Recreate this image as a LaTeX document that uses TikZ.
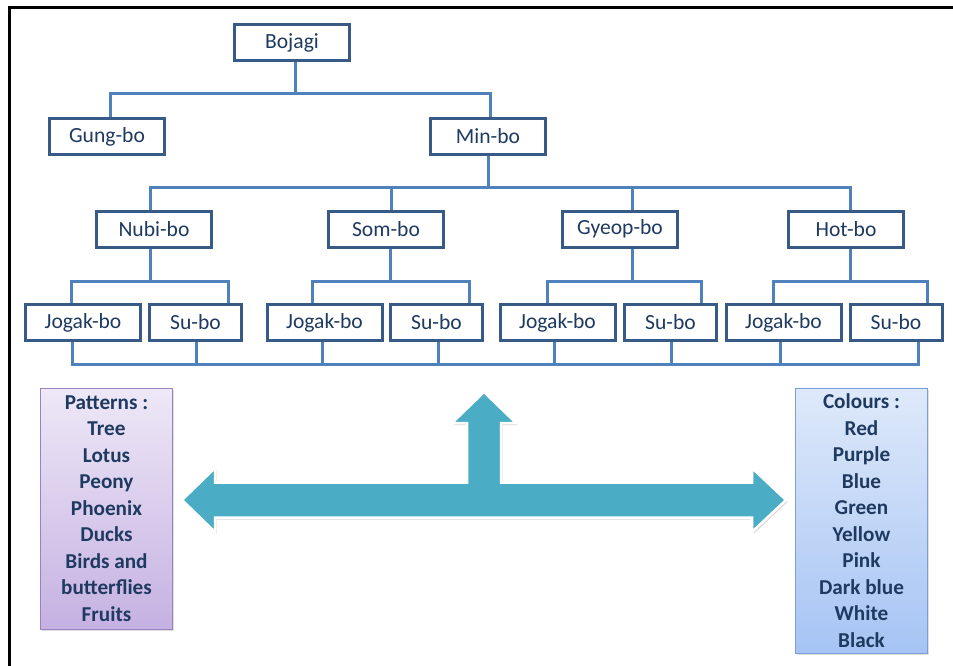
\documentclass[tikz,border=0pt]{standalone}
\usepackage{fontspec}
\setmainfont{Carlito}
\usetikzlibrary{shadows}
\definecolor{boxline}{HTML}{385A87}
\definecolor{connline}{HTML}{4F81BD}
\definecolor{txt}{HTML}{1F3A60}
\definecolor{arrowc}{HTML}{4BACC6}
\definecolor{purtop}{HTML}{EEE8F7}
\definecolor{purbot}{HTML}{C5B1E2}
\definecolor{purline}{HTML}{9A82C0}
\definecolor{blutop}{HTML}{DEE9FA}
\definecolor{blubot}{HTML}{A6C4F4}
\definecolor{bluline}{HTML}{7B9FD4}
\tikzset{
  treebox/.style={draw=boxline, line width=3pt, fill=white, inner sep=0pt,
    minimum height=36pt, text=txt, font=\fontsize{21.6}{26}\selectfont},
  wide/.style={treebox, minimum width=115pt},
  narrow/.style={treebox, minimum width=92pt},
  conn/.style={draw=connline, line width=3pt},
  listbox/.style={draw, line width=1pt, inner sep=0pt, align=center, text=txt,
    font=\bfseries\fontsize{21.2}{26.5}\selectfont, minimum width=132pt,
    drop shadow={opacity=0.25, shadow xshift=1.5pt, shadow yshift=-2pt}},
}
\begin{document}
\begin{tikzpicture}[x=1pt, y=-1pt]
\clip (0,0) rectangle (953,666);
\fill[white] (0,0) rectangle (953,666);
% outer frame
\draw[line width=3pt] (9,8) rectangle (980,700);

% tree boxes
\node[wide] (bojagi) at (292,43) {Bojagi};
\node[wide] (gung) at (107,136.5) {Gung-bo};
\node[wide] (min) at (488,136.5) {Min-bo};
\node[wide] (nubi) at (154,229) {Nubi-bo};
\node[wide] (som) at (386,229) {Som-bo};
\node[wide] (gyeop) at (620,229) {Gyeop-bo};
\node[wide] (hot) at (846,229) {Hot-bo};
\node[wide] (j1) at (83,322.5) {Jogak-bo};
\node[narrow] (s1) at (195.5,322.5) {Su-bo};
\node[wide] (j2) at (324.5,322.5) {Jogak-bo};
\node[narrow] (s2) at (436.5,322.5) {Su-bo};
\node[wide] (j3) at (557.5,322.5) {Jogak-bo};
\node[narrow] (s3) at (670.5,322.5) {Su-bo};
\node[wide] (j4) at (783.5,322.5) {Jogak-bo};
\node[narrow] (s4) at (896,322.5) {Su-bo};

% connectors: level 0 -> 1
\draw[conn] (295,0 |- bojagi.south) -- (295,94);
\draw[conn] (110,0 |- gung.north) -- (110,94) -- (490,94) -- (490,0 |- min.north);
% level 1 -> 2
\draw[conn] (488,0 |- min.south) -- (488,187);
\draw[conn] (150,0 |- nubi.north) -- (150,187) -- (850,187) -- (850,0 |- hot.north);
\draw[conn] (391,0 |- som.north) -- (391,187);
\draw[conn] (632,0 |- gyeop.north) -- (632,187);
% level 2 -> 3
\draw[conn] (150,0 |- nubi.south) -- (150,281);
\draw[conn] (71,0 |- j1.north) -- (71,281) -- (228,281) -- (228,0 |- s1.north);
\draw[conn] (390,0 |- som.south) -- (390,281);
\draw[conn] (312,0 |- j2.north) -- (312,281) -- (469,281) -- (469,0 |- s2.north);
\draw[conn] (632,0 |- gyeop.south) -- (632,281);
\draw[conn] (547,0 |- j3.north) -- (547,281) -- (701,281) -- (701,0 |- s3.north);
\draw[conn] (850,0 |- hot.south) -- (850,281);
\draw[conn] (773,0 |- j4.north) -- (773,281) -- (927,281) -- (927,0 |- s4.north);
% bottom bus
\draw[conn] (72,0 |- j1.south) -- (72,364) -- (918,364) -- (918,0 |- s4.south);
\foreach \n/\x in {s1/196, j2/322, s2/438, j3/554, s3/671, j4/780}
  \draw[conn] (\x,0 |- \n.south) -- (\x,364);

% left-right-up arrow
\path[fill=arrowc, draw=white, line width=2.5pt, line join=miter,
      drop shadow={opacity=0.3, shadow xshift=1.5pt, shadow yshift=-2pt}]
  (182,500) -- (215,468) -- (215,482.5) -- (467,482.5) -- (467,423) -- (452,423)
  -- (484,392) -- (516,423) -- (501,423) -- (501,482.5) -- (752,482.5)
  -- (752,468) -- (786,500) -- (752,532) -- (752,517.5) -- (215,517.5)
  -- (215,532) -- cycle;

% side lists
\node[listbox, draw=purline, top color=purtop, bottom color=purbot,
      minimum height=241pt] (patterns) at (106.5,508.5)
  {Patterns :\\Tree\\Lotus\\Peony\\Phoenix\\Ducks\\Birds and\\butterflies\\Fruits};
\node[listbox, draw=bluline, top color=blutop, bottom color=blubot,
      minimum height=265pt] (colours) at (861.5,520.5)
  {Colours :\\Red\\Purple\\Blue\\Green\\Yellow\\Pink\\Dark blue\\White\\Black};
\end{tikzpicture}
\end{document}
